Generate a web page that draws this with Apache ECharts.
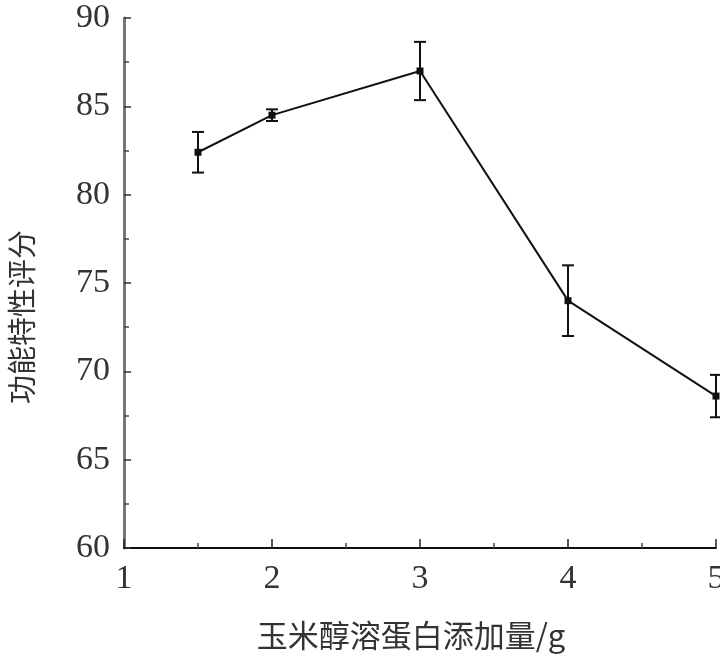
<!DOCTYPE html>
<html>
<head>
<meta charset="utf-8">
<script src="https://cdn.jsdelivr.net/npm/echarts@6/dist/echarts.min.js"></script>
<style>html,body{margin:0;padding:0;background:#fff;}#c{width:720px;height:659px;}</style>
</head>
<body>
<div id="c"></div>
<script>
const xValues = [1.5, 2, 3, 4, 5];
const scores = [82.4, 84.5, 87.0, 74.0, 68.6];
const errors = [1.15, 0.33, 1.65, 2.0, 1.2];
const xTicks = [1, 2, 3, 4, 5];
const yTicks = [60, 65, 70, 75, 80, 85, 90];
const xName = '玉米醇溶蛋白添加量/g';
const yName = '功能特性评分';

const lineData = xValues.map((x, i) => [x, scores[i]]);
const errData = xValues.map((x, i) => [x, scores[i] - errors[i], scores[i] + errors[i]]);

const numFont = '"Liberation Serif", "Times New Roman", serif';
const cjkFont = '"Noto Sans CJK SC", sans-serif';

const chart = echarts.init(document.getElementById('c'), null, {renderer: 'canvas'});
chart.setOption({
  animation: false,
  backgroundColor: '#fff',
  grid: {left: 124, right: 4, top: 18, bottom: 111, containLabel: false, outerBoundsMode: 'none'},
  xAxis: {
    type: 'value',
    min: xTicks[0], max: xTicks[xTicks.length - 1], interval: 1,
    name: xName, nameLocation: 'middle', nameGap: 72,
    nameTextStyle: {fontFamily: cjkFont, fontSize: 31, color: '#333', padding: [0, 18, 0, 0]},
    axisLine: {show: true, lineStyle: {color: '#111', width: 2}},
    axisTick: {show: true, inside: true, length: 9, lineStyle: {color: '#222', width: 1.5}},
    minorTick: {show: true, splitNumber: 2, length: 5, lineStyle: {color: '#444', width: 1.5}},
    axisLabel: {fontFamily: numFont, fontSize: 34, color: '#333', margin: 14, hideOverlap: false},
    splitLine: {show: false}
  },
  yAxis: {
    type: 'value',
    min: yTicks[0], max: yTicks[yTicks.length - 1], interval: 5,
    name: yName, nameLocation: 'middle', nameGap: 88, nameRotate: 90,
    nameTextStyle: {fontFamily: cjkFont, fontSize: 29, color: '#333', padding: [0, 68, 0, 0]},
    axisLine: {show: true, lineStyle: {color: '#777', width: 3}},
    axisTick: {show: true, inside: true, length: 7, lineStyle: {color: '#333', width: 1.5}},
    minorTick: {show: true, splitNumber: 2, length: 5, lineStyle: {color: '#444', width: 1.5}},
    axisLabel: {fontFamily: numFont, fontSize: 34, color: '#333', margin: 14},
    splitLine: {show: false}
  },
  series: [
    {
      type: 'custom',
      data: errData,
      z: 3,
      renderItem: function (params, api) {
        const x = api.value(0);
        const lo = api.coord([x, api.value(1)]);
        const hi = api.coord([x, api.value(2)]);
        const hw = 6;
        const st = {stroke: '#111', lineWidth: 2};
        return {
          type: 'group',
          children: [
            {type: 'line', shape: {x1: lo[0], y1: lo[1], x2: hi[0], y2: hi[1]}, style: st},
            {type: 'line', shape: {x1: lo[0] - hw, y1: lo[1], x2: lo[0] + hw, y2: lo[1]}, style: st},
            {type: 'line', shape: {x1: hi[0] - hw, y1: hi[1], x2: hi[0] + hw, y2: hi[1]}, style: st}
          ]
        };
      }
    },
    {
      type: 'line',
      data: lineData,
      z: 4,
      symbol: 'rect',
      symbolSize: 7,
      itemStyle: {color: '#111'},
      lineStyle: {color: '#111', width: 2}
    }
  ]
});
</script>
</body>
</html>
